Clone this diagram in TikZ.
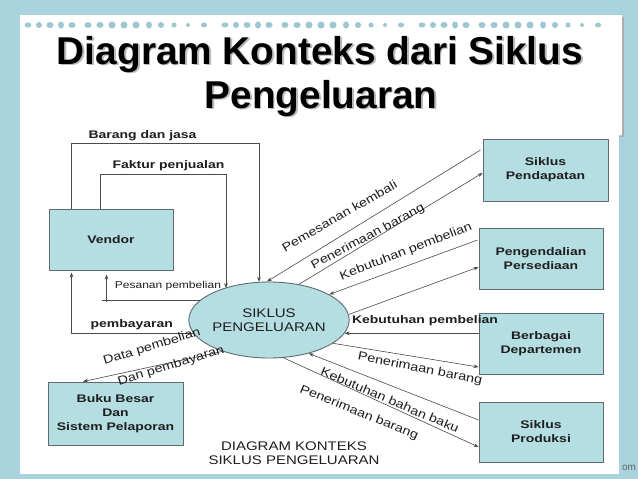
\documentclass[tikz,border=0pt]{standalone}
\usepackage{fontspec}
\setmainfont{Liberation Sans}
\newfontfamily\regf[FakeStretch=1.2]{Liberation Sans}
\newfontfamily\bldf[FakeStretch=1.27]{Liberation Sans}
\usetikzlibrary{arrows.meta,calc,shapes.geometric}
\definecolor{bgblue}{HTML}{A9D3DC}
\definecolor{blob}{HTML}{9CC6D0}
\definecolor{boxfill}{HTML}{B5DEE3}
\definecolor{boxline}{HTML}{5F6B6E}
\definecolor{linec}{HTML}{4A4A4A}
\definecolor{txt}{HTML}{1E1E1E}
\newcommand{\shtxt}[1]{\makebox[0pt][l]{\kern1.8pt\raisebox{-1.8pt}{\textcolor{gray!55}{#1}}}#1}
\begin{document}
\begin{tikzpicture}[x=1pt,y=-1pt,
  ttl/.style={font=\bfseries\fontsize{38.8}{44}\selectfont, inner sep=0pt, anchor=base, text=black},
  ebox/.style={draw=boxline, fill=boxfill, line width=0.9pt, align=center, inner sep=0pt,
     text=txt, font=\bldf\bfseries\fontsize{11}{14}\selectfont},
  proc/.style={ellipse, draw=boxline, fill=boxfill, line width=0.9pt, align=center, inner sep=0pt,
     minimum width=144pt, minimum height=76pt, text=txt, font=\regf\fontsize{12.5}{14}\selectfont},
  flow/.style={draw=linec, line width=0.6pt, -{Stealth[length=5pt,width=3.6pt]}},
  plain/.style={draw=linec, line width=0.6pt},
  lblb/.style={inner sep=0pt, text=txt, font=\bldf\bfseries\fontsize{11}{13}\selectfont},
  lblr/.style={inner sep=0pt, text=txt, font=\regf\fontsize{12}{14}\selectfont},
  lbls/.style={inner sep=0pt, text=txt, font=\regf\fontsize{10}{12}\selectfont},
  capt/.style={inner sep=0pt, align=center, text=txt, font=\regf\fontsize{12.5}{14}\selectfont}
]
\useasboundingbox (0,0) rectangle (638,479);
% background and paper
\fill[bgblue] (0,0) rectangle (638,479);
\fill[white] (20,15) rectangle (619,474);
\fill[white] (619,15) rectangle (622,135);
\draw[gray!65, line width=1.4pt] (623,17) -- (623,136.5) -- (619,136.5);
\foreach \s in {0,197,394}{
  \foreach \dx/\rx/\ry in {0/3.5/2.5, 11/3/3, 22/3.5/3, 33/3/3.5, 44/3.5/3, 60/3.5/3, 72/3.5/3,
     84/3.5/3.5, 96/3.5/3.5, 108/3.5/3.5, 121/3/3.5, 133/3/3, 146/2.5/2.5, 160/2/2, 176/3/2.5}{
    \fill[blob] (28+\s+\dx,25) ellipse [x radius=\rx pt, y radius=\ry pt];
  }
}
% title
\node[ttl] (t1) at (320,64) {\shtxt{Diagram Konteks dari Siklus}};
\node[ttl] (t2) at (321,108) {\shtxt{Pengeluaran}};

% entities
\node[ebox, minimum width=124pt, minimum height=61pt] (vendor) at (111,239.5) {Vendor};
\node[ebox, minimum width=125pt, minimum height=62pt] (pend) at (545.5,170) {Siklus\\Pendapatan};
\node[ebox, minimum width=124pt, minimum height=61pt] (peng) at (541,258.5) {Pengendalian\\Persediaan};
\node[ebox, minimum width=124pt, minimum height=61pt] (berb) at (541,343.5) {Berbagai\\Departemen};
\node[ebox, minimum width=124pt, minimum height=60pt] (prod) at (541,432) {Siklus\\Produksi};
\node[ebox, minimum width=135pt, minimum height=63pt] (buku) at (115.5,413.5) {Buku Besar\\Dan\\Sistem Pelaporan};
\node[proc] (siklus) at (269,320) {SIKLUS\\PENGELUARAN};

% left connectors
\coordinate (bjc) at (259,143);
\coordinate (fpc) at (226,174);
\coordinate (pvx) at ([xshift=53pt]vendor.south west);
\coordinate (pvy) at ([xshift=58pt]vendor.south west);
\coordinate (pbx) at ([xshift=23pt,yshift=-2pt]vendor.south west);
\draw[flow] ([xshift=23pt]vendor.north west) |- (bjc) -- (bjc |- siklus.105);
\draw[flow] ([xshift=52pt]vendor.north west) |- (fpc) -- (fpc |- siklus.145);
\draw[plain] (siklus.164) -- (pvx |- siklus.164);
\draw[flow] ($(pvy |- siklus.164)+(0,2)$) -- ([yshift=-4pt]pvy);
\draw[flow] (siklus.190) -| (pbx);

% right connectors
\draw[flow] ($(pend.west)+(-2,-20)$) -- (siklus.93);
\draw[flow] (siklus.50) -- ($(pend.west)+(0,3)$);
\draw[flow] ($(peng.west)+(-1,-18.5)$) -- (siklus.23);
\draw[flow] (siklus.4) -- ($(peng.west)+(0,8.5)$);
\draw[flow] (berb.west |- siklus.-10) -- (siklus.-10);
\draw[flow] (siklus.-20) -- ($(berb.west)+(0,23.5)$);
\draw[flow] ($(prod.west)+(0,-12)$) -- (siklus.-40);
\draw[flow] (siklus.-69) -- ($(prod.west)+(0,15)$);
\draw[flow] (siklus.214) -- ($(buku.north)+(-32.5,0)$);

% labels
\node[lblb] (lbj) at (142.5,135.5) {Barang dan jasa};
\node[lblb] (lfp) at (168.5,166) {Faktur penjualan};
\node[lbls] (lpp) at (168,286) {Pesanan pembelian};
\node[lblb] (lpb) at (131.7,324.5) {pembayaran};
\node[lblb] (lkp) at (425,320.7) {Kebutuhan pembelian};
\node[lblr, rotate=30] (lpk) at (339.5,216) {Pemesanan kembali};
\node[lblr, rotate=28] (lpb1) at (368,237) {Penerimaan barang};
\node[lblr, rotate=21] (lkp2) at (406,252) {Kebutuhan pembelian};
\node[lblr, rotate=-11] (lpb2) at (420,369) {Penerimaan barang};
\node[lblr, rotate=-23] (lkbb) at (390,400) {Kebutuhan bahan baku};
\node[lblr, rotate=-22] (lpb3) at (359,413) {Penerimaan barang};
\node[lblr, rotate=17] (ldp) at (152,347) {Data pembelian};
\node[lblr, rotate=17] (ldb) at (171,366) {Dan pembayaran};

% caption
\node[capt] (cap) at (294,453) {DIAGRAM KONTEKS\\SIKLUS PENGELUARAN};
\node[inner sep=0pt, text=gray!80!black, font=\fontsize{10}{12}\selectfont] (om) at (629,468) {om};
\end{tikzpicture}
\end{document}
